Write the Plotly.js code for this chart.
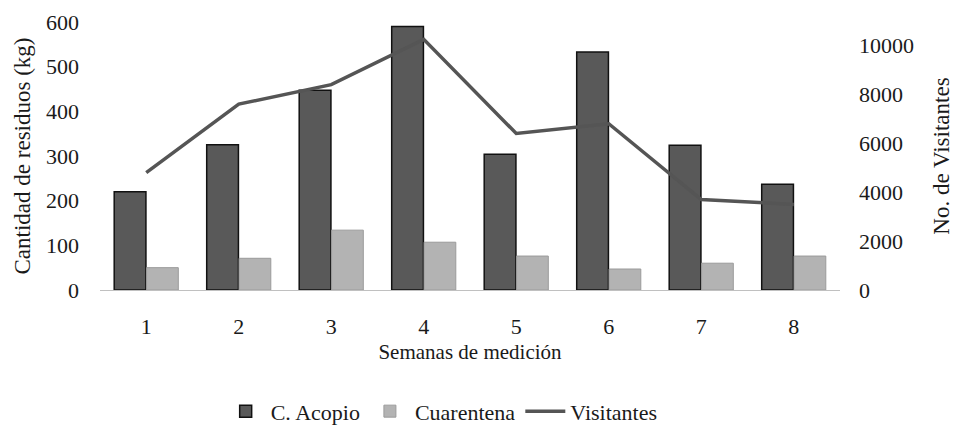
<!DOCTYPE html>
<html>
<head>
<meta charset="utf-8">
<script src="https://cdn.plot.ly/plotly-3.0.1.min.js"></script>
<style>html,body{margin:0;padding:0;background:#fff;}#chart{width:956px;height:433px;}</style>
</head>
<body>
<div id="chart"></div>
<script>
const semanas = ['1','2','3','4','5','6','7','8'];
const acopio = [220, 325, 447, 590, 304, 533, 324, 237];
const cuarentena = [50, 71, 134, 107, 76, 47, 60, 76];
const visitantes = [4800, 7600, 8400, 10250, 6400, 6800, 3700, 3500];

const font = {family: '"Liberation Serif", "Times New Roman", serif', color: '#1a1a1a'};

const traces = [
  {type: 'bar', name: 'C. Acopio', x: semanas, y: acopio,
   marker: {color: '#595959', line: {color: '#111111', width: 1.5}}},
  {type: 'bar', name: 'Cuarentena', x: semanas, y: cuarentena,
   marker: {color: '#b3b3b3', line: {color: '#9a9a9a', width: 1}}},
  {type: 'scatter', mode: 'lines', name: 'Visitantes', x: semanas, y: visitantes, yaxis: 'y2',
   line: {color: '#555555', width: 3.5}}
];

const layout = {
  width: 956, height: 433,
  margin: {l: 100, r: 116, t: 22, b: 143, autoexpand: false},
  paper_bgcolor: '#ffffff', plot_bgcolor: '#ffffff',
  font: Object.assign({size: 21}, font),
  barmode: 'group', bargap: 0.3, bargroupgap: 0.02,
  showlegend: true,
  legend: {orientation: 'h', x: 0.462, xanchor: 'center', xref: 'container',
           y: 0.05, yanchor: 'middle', yref: 'container',
           itemwidth: 40, font: Object.assign({size: 22}, font), traceorder: 'normal'},
  xaxis: {
    type: 'category', showgrid: false, zeroline: false,
    showline: true, linecolor: '#c0c0c0', linewidth: 1,
    ticks: '', ticklabelstandoff: 17,
    tickfont: Object.assign({size: 22}, font),
    title: {text: 'Semanas de medición', font: Object.assign({size: 21}, font), standoff: 5}
  },
  yaxis: {
    range: [0, 600], dtick: 100, showgrid: false, zeroline: false, showline: false,
    ticks: '', ticklabelstandoff: 20,
    tickfont: Object.assign({size: 22}, font),
    title: {text: 'Cantidad de residuos (kg)', font: Object.assign({size: 23}, font), standoff: 8}
  },
  yaxis2: {
    overlaying: 'y', side: 'right', range: [0, 10960], tickvals: [0, 2000, 4000, 6000, 8000, 10000],
    tickformat: 'd',
    showgrid: false, zeroline: false, showline: false,
    ticks: '', ticklabelstandoff: 18,
    tickfont: Object.assign({size: 22}, font),
    title: {text: 'No. de Visitantes', font: Object.assign({size: 23}, font), standoff: 19}
  }
};

Plotly.newPlot('chart', traces, layout, {displayModeBar: false, staticPlot: true});
</script>
</body>
</html>
